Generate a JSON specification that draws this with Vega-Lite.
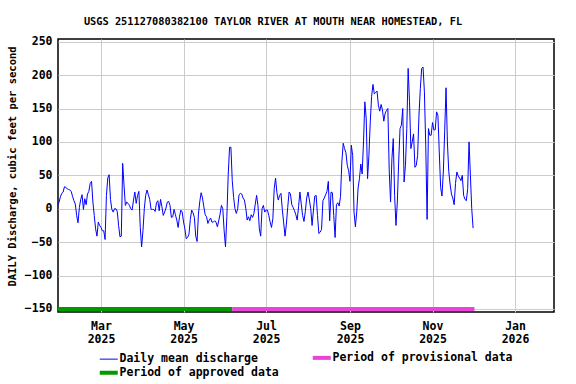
{
"$schema": "https://vega.github.io/schema/vega-lite/v6.json",
"width": 496, "height": 273,
"autosize": "none",
"padding": {"left": 58, "top": 39, "right": 22, "bottom": 72},
"background": "white",
"config": {"view": {"stroke": "#000", "strokeWidth": 1.5}, "font": "DejaVu Sans Mono", "axisY": {"labelOverlap": false}},
"title": {"text": "USGS 251127080382100 TAYLOR RIVER AT MOUTH NEAR HOMESTEAD, FL", "fontSize": 10.3, "fontWeight": "bold", "font": "DejaVu Sans Mono", "anchor": "middle", "dx": -33, "offset": 8, "color": "#000"},
"datasets": {
"periods": [
{"series": "Period of approved data", "start": "2025-01-28", "end": "2025-06-06"},
{"series": "Period of provisional data", "start": "2025-06-06", "end": "2025-12-02"}
],
"q": [
{"date":"2025-01-28","q":5},{"date":"2025-01-29","q":10},{"date":"2025-01-30","q":18},{"date":"2025-01-31","q":23},
{"date":"2025-02-01","q":25},{"date":"2025-02-02","q":33},{"date":"2025-02-03","q":32},{"date":"2025-02-04","q":30},{"date":"2025-02-05","q":29},{"date":"2025-02-06","q":28},{"date":"2025-02-07","q":26},{"date":"2025-02-08","q":18},{"date":"2025-02-09","q":12},{"date":"2025-02-10","q":7},{"date":"2025-02-11","q":-10},{"date":"2025-02-12","q":-21},{"date":"2025-02-13","q":2},{"date":"2025-02-14","q":14},{"date":"2025-02-15","q":21},{"date":"2025-02-16","q":-1},{"date":"2025-02-17","q":15},{"date":"2025-02-18","q":6},{"date":"2025-02-19","q":22},{"date":"2025-02-20","q":26},{"date":"2025-02-21","q":38},{"date":"2025-02-22","q":41},{"date":"2025-02-23","q":10},{"date":"2025-02-24","q":-10},{"date":"2025-02-25","q":-30},{"date":"2025-02-26","q":-41},{"date":"2025-02-27","q":-20},{"date":"2025-02-28","q":-25},
{"date":"2025-03-01","q":-28},{"date":"2025-03-02","q":-33},{"date":"2025-03-03","q":-33},{"date":"2025-03-04","q":-46},{"date":"2025-03-05","q":20},{"date":"2025-03-06","q":46},{"date":"2025-03-07","q":51},{"date":"2025-03-08","q":14},{"date":"2025-03-09","q":-1},{"date":"2025-03-10","q":-5},{"date":"2025-03-11","q":0},{"date":"2025-03-12","q":0},{"date":"2025-03-13","q":-4},{"date":"2025-03-14","q":-25},{"date":"2025-03-15","q":-42},{"date":"2025-03-16","q":-41},{"date":"2025-03-17","q":68},{"date":"2025-03-18","q":35},{"date":"2025-03-19","q":5},{"date":"2025-03-20","q":10},{"date":"2025-03-21","q":8},{"date":"2025-03-22","q":5},{"date":"2025-03-23","q":0},{"date":"2025-03-24","q":-2},{"date":"2025-03-25","q":13},{"date":"2025-03-26","q":25},{"date":"2025-03-27","q":8},{"date":"2025-03-28","q":20},{"date":"2025-03-29","q":26},{"date":"2025-03-30","q":-28},{"date":"2025-03-31","q":-57},
{"date":"2025-04-01","q":-33},{"date":"2025-04-02","q":0},{"date":"2025-04-03","q":20},{"date":"2025-04-04","q":28},{"date":"2025-04-05","q":21},{"date":"2025-04-06","q":14},{"date":"2025-04-07","q":-1},{"date":"2025-04-08","q":-1},{"date":"2025-04-09","q":-1},{"date":"2025-04-10","q":-4},{"date":"2025-04-11","q":9},{"date":"2025-04-12","q":12},{"date":"2025-04-13","q":-3},{"date":"2025-04-14","q":14},{"date":"2025-04-15","q":3},{"date":"2025-04-16","q":-10},{"date":"2025-04-17","q":-5},{"date":"2025-04-18","q":1},{"date":"2025-04-19","q":10},{"date":"2025-04-20","q":11},{"date":"2025-04-21","q":5},{"date":"2025-04-22","q":-13},{"date":"2025-04-23","q":-12},{"date":"2025-04-24","q":-1},{"date":"2025-04-25","q":-9},{"date":"2025-04-26","q":-17},{"date":"2025-04-27","q":-28},{"date":"2025-04-28","q":-12},{"date":"2025-04-29","q":-2},{"date":"2025-04-30","q":-5},
{"date":"2025-05-01","q":-20},{"date":"2025-05-02","q":-30},{"date":"2025-05-03","q":-45},{"date":"2025-05-04","q":-43},{"date":"2025-05-05","q":-38},{"date":"2025-05-06","q":-16},{"date":"2025-05-07","q":-2},{"date":"2025-05-08","q":-6},{"date":"2025-05-09","q":-13},{"date":"2025-05-10","q":-41},{"date":"2025-05-11","q":-49},{"date":"2025-05-12","q":-8},{"date":"2025-05-13","q":11},{"date":"2025-05-14","q":24},{"date":"2025-05-15","q":16},{"date":"2025-05-16","q":3},{"date":"2025-05-17","q":-9},{"date":"2025-05-18","q":-12},{"date":"2025-05-19","q":-22},{"date":"2025-05-20","q":-17},{"date":"2025-05-21","q":-14},{"date":"2025-05-22","q":-20},{"date":"2025-05-23","q":-20},{"date":"2025-05-24","q":-18},{"date":"2025-05-25","q":-20},{"date":"2025-05-26","q":-27},{"date":"2025-05-27","q":-18},{"date":"2025-05-28","q":-8},{"date":"2025-05-29","q":5},{"date":"2025-05-30","q":0},{"date":"2025-05-31","q":-33},
{"date":"2025-06-01","q":-57},{"date":"2025-06-02","q":-12},{"date":"2025-06-03","q":50},{"date":"2025-06-04","q":92},{"date":"2025-06-05","q":92},{"date":"2025-06-06","q":42},{"date":"2025-06-07","q":17},{"date":"2025-06-08","q":0},{"date":"2025-06-09","q":-7},{"date":"2025-06-10","q":0},{"date":"2025-06-11","q":21},{"date":"2025-06-12","q":23},{"date":"2025-06-13","q":22},{"date":"2025-06-14","q":16},{"date":"2025-06-15","q":13},{"date":"2025-06-16","q":1},{"date":"2025-06-17","q":-17},{"date":"2025-06-18","q":-12},{"date":"2025-06-19","q":-18},{"date":"2025-06-20","q":-9},{"date":"2025-06-21","q":-13},{"date":"2025-06-22","q":-7},{"date":"2025-06-23","q":7},{"date":"2025-06-24","q":20},{"date":"2025-06-25","q":5},{"date":"2025-06-26","q":-30},{"date":"2025-06-27","q":-41},{"date":"2025-06-28","q":0},{"date":"2025-06-29","q":5},{"date":"2025-06-30","q":-5},
{"date":"2025-07-01","q":-2},{"date":"2025-07-02","q":-2},{"date":"2025-07-03","q":-10},{"date":"2025-07-04","q":-20},{"date":"2025-07-05","q":-28},{"date":"2025-07-06","q":-15},{"date":"2025-07-07","q":30},{"date":"2025-07-08","q":46},{"date":"2025-07-09","q":24},{"date":"2025-07-10","q":13},{"date":"2025-07-11","q":20},{"date":"2025-07-12","q":23},{"date":"2025-07-13","q":-1},{"date":"2025-07-14","q":-21},{"date":"2025-07-15","q":-41},{"date":"2025-07-16","q":-23},{"date":"2025-07-17","q":2},{"date":"2025-07-18","q":25},{"date":"2025-07-19","q":22},{"date":"2025-07-20","q":6},{"date":"2025-07-21","q":2},{"date":"2025-07-22","q":-3},{"date":"2025-07-23","q":-9},{"date":"2025-07-24","q":-17},{"date":"2025-07-25","q":3},{"date":"2025-07-26","q":25},{"date":"2025-07-27","q":7},{"date":"2025-07-28","q":-10},{"date":"2025-07-29","q":-19},{"date":"2025-07-30","q":-4},{"date":"2025-07-31","q":16},
{"date":"2025-08-01","q":25},{"date":"2025-08-02","q":13},{"date":"2025-08-03","q":0},{"date":"2025-08-04","q":-25},{"date":"2025-08-05","q":-2},{"date":"2025-08-06","q":19},{"date":"2025-08-07","q":20},{"date":"2025-08-08","q":-10},{"date":"2025-08-09","q":-37},{"date":"2025-08-10","q":-35},{"date":"2025-08-11","q":-31},{"date":"2025-08-12","q":12},{"date":"2025-08-13","q":16},{"date":"2025-08-14","q":21},{"date":"2025-08-15","q":26},{"date":"2025-08-16","q":41},{"date":"2025-08-17","q":-18},{"date":"2025-08-18","q":25},{"date":"2025-08-19","q":24},{"date":"2025-08-20","q":-10},{"date":"2025-08-21","q":-43},{"date":"2025-08-22","q":6},{"date":"2025-08-23","q":9},{"date":"2025-08-24","q":4},{"date":"2025-08-25","q":18},{"date":"2025-08-26","q":70},{"date":"2025-08-27","q":98},{"date":"2025-08-28","q":90},{"date":"2025-08-29","q":84},{"date":"2025-08-30","q":65},{"date":"2025-08-31","q":57},
{"date":"2025-09-01","q":41},{"date":"2025-09-02","q":95},{"date":"2025-09-03","q":80},{"date":"2025-09-04","q":-5},{"date":"2025-09-05","q":-27},{"date":"2025-09-06","q":-5},{"date":"2025-09-07","q":31},{"date":"2025-09-08","q":45},{"date":"2025-09-09","q":67},{"date":"2025-09-10","q":52},{"date":"2025-09-11","q":100},{"date":"2025-09-12","q":160},{"date":"2025-09-13","q":135},{"date":"2025-09-14","q":45},{"date":"2025-09-15","q":80},{"date":"2025-09-16","q":130},{"date":"2025-09-17","q":168},{"date":"2025-09-18","q":186},{"date":"2025-09-19","q":172},{"date":"2025-09-20","q":174},{"date":"2025-09-21","q":176},{"date":"2025-09-22","q":155},{"date":"2025-09-23","q":146},{"date":"2025-09-24","q":156},{"date":"2025-09-25","q":148},{"date":"2025-09-26","q":131},{"date":"2025-09-27","q":143},{"date":"2025-09-28","q":147},{"date":"2025-09-29","q":150},{"date":"2025-09-30","q":58},
{"date":"2025-10-01","q":10},{"date":"2025-10-02","q":75},{"date":"2025-10-03","q":105},{"date":"2025-10-04","q":20},{"date":"2025-10-05","q":-25},{"date":"2025-10-06","q":10},{"date":"2025-10-07","q":70},{"date":"2025-10-08","q":120},{"date":"2025-10-09","q":125},{"date":"2025-10-10","q":150},{"date":"2025-10-11","q":40},{"date":"2025-10-12","q":65},{"date":"2025-10-13","q":120},{"date":"2025-10-14","q":210},{"date":"2025-10-15","q":160},{"date":"2025-10-16","q":90},{"date":"2025-10-17","q":100},{"date":"2025-10-18","q":112},{"date":"2025-10-19","q":62},{"date":"2025-10-20","q":65},{"date":"2025-10-21","q":80},{"date":"2025-10-22","q":140},{"date":"2025-10-23","q":180},{"date":"2025-10-24","q":210},{"date":"2025-10-25","q":212},{"date":"2025-10-26","q":175},{"date":"2025-10-27","q":95},{"date":"2025-10-28","q":-16},{"date":"2025-10-29","q":120},{"date":"2025-10-30","q":110},{"date":"2025-10-31","q":110},
{"date":"2025-11-01","q":129},{"date":"2025-11-02","q":118},{"date":"2025-11-03","q":118},{"date":"2025-11-04","q":145},{"date":"2025-11-05","q":140},{"date":"2025-11-06","q":85},{"date":"2025-11-07","q":32},{"date":"2025-11-08","q":19},{"date":"2025-11-09","q":55},{"date":"2025-11-10","q":116},{"date":"2025-11-11","q":181},{"date":"2025-11-12","q":100},{"date":"2025-11-13","q":56},{"date":"2025-11-14","q":37},{"date":"2025-11-15","q":22},{"date":"2025-11-16","q":16},{"date":"2025-11-17","q":6},{"date":"2025-11-18","q":38},{"date":"2025-11-19","q":55},{"date":"2025-11-20","q":49},{"date":"2025-11-21","q":46},{"date":"2025-11-22","q":42},{"date":"2025-11-23","q":50},{"date":"2025-11-24","q":20},{"date":"2025-11-25","q":14},{"date":"2025-11-26","q":12},{"date":"2025-11-27","q":30},{"date":"2025-11-28","q":100},{"date":"2025-11-29","q":50},{"date":"2025-11-30","q":0},
{"date":"2025-12-01","q":-29}
]
},
"layer": [
{
"data": {"name": "periods"},
"mark": {"type": "rule", "strokeWidth": 4, "clip": false},
"encoding": {
"x": {"field": "start", "type": "temporal",
  "scale": {"type": "utc", "domain": [{"year": 2025, "month": 1, "date": 28, "hours": 5, "utc": true}, {"year": 2026, "month": 1, "date": 29, "hours": 19, "utc": true}]},
  "axis": {"values": [{"year": 2025, "month": 3, "date": 1, "utc": true}, {"year": 2025, "month": 5, "date": 1, "utc": true}, {"year": 2025, "month": 7, "date": 1, "utc": true}, {"year": 2025, "month": 9, "date": 1, "utc": true}, {"year": 2025, "month": 11, "date": 1, "utc": true}, {"year": 2026, "month": 1, "date": 1, "utc": true}],
    "labelExpr": "[utcFormat(datum.value, '%b'), utcFormat(datum.value, '%Y')]",
    "title": null, "grid": true, "gridColor": "#CCCCCC", "gridWidth": 1, "ticks": false, "domain": false, "tickCount": 20,
    "labelFont": "DejaVu Sans Mono", "labelFontSize": 11.5, "labelFontWeight": "bold", "labelColor": "#000", "labelPadding": 8, "labelLineHeight": 13, "labelFlush": false, "labelOverlap": false}},
"x2": {"field": "end"},
"y": {"datum": -150, "type": "quantitative",
  "scale": {"domain": [-154.5, 254], "nice": false, "zero": false},
  "axis": {"values": [-150, -100, -50, 0, 50, 100, 150, 200, 250], "tickCount": 20, "title": "DAILY Discharge, cubic feet per second",
    "grid": true, "gridColor": "#CCCCCC", "ticks": false, "domain": false, "labelOverlap": false,
    "labelFont": "DejaVu Sans Mono", "labelFontSize": 11.5, "labelFontWeight": "bold", "labelColor": "#000", "labelPadding": 6,
    "titleFont": "DejaVu Sans Mono", "titleFontSize": 10.5, "titleFontWeight": "bold", "titleColor": "#000",
    "titleX": -46, "titleY": 127, "titleAngle": 270, "titleAlign": "center", "titleBaseline": "middle"}},
"color": {"field": "series", "type": "nominal",
  "scale": {"domain": ["Daily mean discharge", "Period of provisional data", "Period of approved data"], "range": ["#0000FF", "#E845D8", "#009900"]},
  "legend": {"orient": "none", "legendX": 45, "legendY": 313, "columns": 2, "direction": "horizontal", "title": null, "symbolType": "stroke", "symbolSize": 324, "symbolStrokeWidth": 1,
    "labelFont": "DejaVu Sans Mono", "labelFontSize": 11.5, "labelFontWeight": "bold", "labelColor": "#000", "labelOffset": 5, "labelLimit": 400, "columnPadding": 25, "rowPadding": -2,
    "encode": {"symbols": {"update": {"strokeWidth": {"signal": "datum.value === 'Daily mean discharge' ? 1 : 4"}}}}}}
}
},
{
"data": {"name": "q"},
"mark": {"type": "line", "strokeWidth": 1},
"encoding": {
"x": {"field": "date", "type": "temporal"},
"y": {"field": "q", "type": "quantitative"},
"color": {"datum": "Daily mean discharge", "type": "nominal"}
}
}
]
}
